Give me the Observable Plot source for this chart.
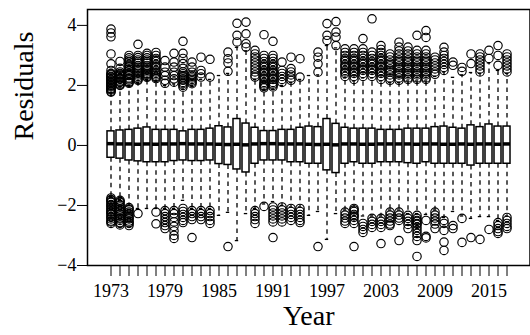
<!DOCTYPE html>
<html><head><meta charset="utf-8">
<script src="https://cdn.jsdelivr.net/npm/d3@7"></script>
<script src="https://cdn.jsdelivr.net/npm/@observablehq/plot@0.6"></script>
<style>body{margin:0;background:#fff} svg{display:block}</style>
</head><body><div id="chart"></div>
<script>
const years = [1973,1974,1975,1976,1977,1978,1979,1980,1981,1982,1983,1984,1985,1986,1987,1988,1989,1990,1991,1992,1993,1994,1995,1996,1997,1998,1999,2000,2001,2002,2003,2004,2005,2006,2007,2008,2009,2010,2011,2012,2013,2014,2015,2016,2017];
const q1 = [-0.41,-0.44,-0.50,-0.53,-0.56,-0.56,-0.56,-0.52,-0.50,-0.52,
            -0.52,-0.50,-0.62,-0.65,-0.80,-0.90,-0.61,-0.50,-0.50,-0.50,
            -0.56,-0.56,-0.61,-0.61,-0.83,-0.92,-0.61,-0.56,-0.61,-0.61,
            -0.56,-0.56,-0.56,-0.59,-0.61,-0.56,-0.61,-0.61,-0.61,-0.61,
            -0.67,-0.61,-0.61,-0.61,-0.61];
const median = [0.06,0.05,0.05,0.04,0.05,0.04,0.05,0.05,0.06,0.05,
                0.05,0.05,0.04,0.03,0.04,0.02,0.05,0.06,0.06,0.05,
                0.05,0.05,0.04,0.03,0.04,0.02,0.05,0.05,0.04,0.04,
                0.05,0.05,0.05,0.05,0.04,0.05,0.05,0.04,0.04,0.05,
                0.04,0.05,0.05,0.04,0.05];
const q3 = [0.47,0.50,0.52,0.56,0.60,0.52,0.52,0.52,0.47,0.52,
            0.52,0.56,0.64,0.60,0.88,0.73,0.59,0.48,0.48,0.52,
            0.52,0.59,0.63,0.61,0.88,0.72,0.59,0.56,0.56,0.56,
            0.52,0.52,0.52,0.56,0.56,0.56,0.61,0.63,0.59,0.56,
            0.67,0.61,0.70,0.63,0.63];
const whiskerLow = [-1.7,-1.8,-2.0,-2.1,-2.1,-2.1,-2.1,-2.1,-1.83,-2.1,
                    -2.1,-2.1,-2.33,-2.23,-3.17,-2.27,-2.1,-1.95,-1.87,-2.0,
                    -2.05,-2.05,-2.33,-2.2,-3.13,-2.27,-2.15,-2.05,-2.35,-2.35,
                    -2.35,-2.15,-2.15,-2.27,-2.27,-2.3,-2.15,-2.4,-2.2,-2.35,
                    -2.43,-2.37,-2.37,-2.5,-2.35];
const whiskerHigh = [1.75,1.95,2.0,2.1,2.2,2.15,2.0,2.05,1.88,2.0,
                     2.2,2.2,2.33,2.4,3.27,3.15,2.2,1.85,1.88,2.0,
                     2.1,2.2,2.33,2.35,3.33,3.25,2.25,2.15,2.25,2.25,
                     2.15,2.1,2.1,2.15,2.15,2.15,2.3,2.45,2.27,2.35,
                     2.43,2.4,2.75,2.5,2.4];
const outliersHigh = [
  [3.88,3.75,3.62,3.05,2.72,2.5,2.4,2.38,2.35,2.3,2.28,2.25,2.2,2.18,2.15,2.1,2.08,2.05,2.0,1.98,1.95,1.9,1.88,1.85,1.8,1.78],
  [2.8,2.57,2.45,2.4,2.38,2.35,2.32,2.26,2.23,2.2,2.15,2.12,2.1,2.05,2.02,2.0],
  [3.0,2.92,2.85,2.8,2.78,2.7,2.65,2.62,2.55,2.5,2.48,2.4,2.36,2.33,2.25,2.22,2.18,2.12,2.1,2.07],
  [3.37,3.0,2.93,2.85,2.8,2.75,2.65,2.6,2.55,2.5,2.45,2.4,2.35,2.3,2.25,2.2,2.17],
  [3.07,3.0,2.92,2.85,2.8,2.75,2.65,2.6,2.55,2.5,2.45,2.4,2.38,2.35,2.3,2.27],
  [3.1,3.0,2.9,2.85,2.8,2.7,2.65,2.6,2.5,2.45,2.4,2.35,2.3,2.27,2.23],
  [2.83,2.61,2.44,2.33,2.17,2.07],
  [3.07,2.78,2.61,2.44,2.33,2.22,2.11],
  [3.47,3.07,2.9,2.73,2.57,2.45,2.39,2.33,2.28,2.22,2.17,2.1,2.06,2.0,1.94],
  [2.78,2.61,2.44,2.35,2.3,2.25,2.2,2.15,2.1,2.06],
  [2.94,2.5,2.39,2.28],
  [2.87,2.28],
  [],
  [3.11,2.89,2.75,2.47],
  [4.07,3.67,3.45],
  [4.11,3.72,3.39,3.28],
  [3.17,3.05,2.95,2.85,2.75,2.65,2.55,2.45,2.35,2.28],
  [3.69,3.0,2.9,2.8,2.7,2.65,2.6,2.5,2.45,2.4,2.3,2.25,2.2,2.1,2.05,2.0,1.97,1.92],
  [3.47,3.0,2.9,2.8,2.7,2.65,2.6,2.5,2.45,2.4,2.3,2.25,2.2,2.1,2.05,2.0,1.95],
  [2.78,2.5,2.4,2.3,2.2,2.1],
  [2.94,2.56,2.45,2.35,2.25,2.17],
  [2.89,2.28],
  [],
  [3.11,2.94,2.72,2.44],
  [4.06,3.67,3.5],
  [4.13,3.78,3.61,3.33],
  [3.22,3.1,3.0,2.9,2.85,2.8,2.7,2.65,2.6,2.5,2.45,2.4,2.3],
  [3.22,3.1,3.0,2.9,2.85,2.8,2.7,2.65,2.6,2.5,2.45,2.4,2.3,2.2],
  [3.56,3.22,3.1,3.0,2.9,2.8,2.75,2.7,2.6,2.55,2.5,2.4,2.3],
  [4.22,3.11,3.0,2.9,2.8,2.75,2.7,2.6,2.55,2.5,2.4,2.3],
  [3.33,3.2,3.1,3.0,2.9,2.85,2.8,2.7,2.65,2.6,2.5,2.45,2.4,2.3,2.2],
  [3.05,2.95,2.85,2.75,2.7,2.65,2.55,2.5,2.45,2.35,2.25,2.17],
  [3.44,3.28,3.15,3.05,2.95,2.85,2.8,2.75,2.65,2.6,2.55,2.45,2.4,2.35,2.25,2.17],
  [3.28,3.15,3.05,2.95,2.85,2.8,2.75,2.65,2.6,2.55,2.45,2.4,2.35,2.25,2.2],
  [3.67,3.17,3.05,2.95,2.85,2.8,2.75,2.65,2.6,2.55,2.45,2.4,2.35,2.25,2.2],
  [3.83,3.6,3.17,3.05,2.95,2.85,2.8,2.75,2.65,2.6,2.55,2.45,2.4,2.35,2.25,2.2],
  [2.94,2.85,2.75,2.65,2.55,2.45,2.37],
  [3.27,3.11,3.0,2.9,2.8,2.7,2.6,2.5],
  [2.78,2.67],
  [2.6,2.47],
  [3.05,2.73],
  [3.05,2.95,2.85,2.75,2.65,2.55,2.45],
  [3.17,2.9],
  [3.33,3.0,2.67],
  [3.05,2.95,2.85,2.75,2.65,2.55,2.45]
];
const outliersLow = [
  [-1.75,-1.8,-1.82,-1.87,-1.9,-1.97,-2.0,-2.05,-2.1,-2.15,-2.2,-2.22,-2.27,-2.3,-2.37,-2.4,-2.45,-2.52,-2.55,-2.6],
  [-1.83,-1.87,-1.9,-1.97,-2.0,-2.05,-2.12,-2.17,-2.2,-2.27,-2.3,-2.35,-2.42,-2.45,-2.5,-2.57,-2.6,-2.65],
  [-2.07,-2.12,-2.15,-2.22,-2.27,-2.3,-2.37,-2.42,-2.45,-2.52,-2.57,-2.6,-2.67],
  [-2.27],
  [],
  [-2.22,-2.61],
  [-2.17,-2.27,-2.37,-2.47,-2.57,-2.67,-2.77],
  [-2.17,-2.27,-2.4,-2.55,-2.7,-2.85,-3.0,-3.1],
  [-2.1,-2.2,-2.3,-2.4,-2.5,-2.57],
  [-2.17,-2.27,-2.37,-2.47,-3.07],
  [-2.17,-2.27,-2.37,-2.47],
  [-2.17,-2.27,-2.37,-2.5,-2.6],
  [],
  [-3.37],
  [],
  [],
  [-2.17,-2.27,-2.37,-2.47,-2.6],
  [-2.03],
  [-2.05,-2.15,-2.25,-2.35,-2.45,-2.55,-3.07],
  [-2.05,-2.15,-2.25,-2.35,-2.45,-2.55],
  [-2.1,-2.2,-2.3,-2.4,-2.5],
  [-2.1,-2.2,-2.3,-2.4,-2.5,-2.57],
  [],
  [-3.37],
  [],
  [],
  [-2.22,-2.32,-2.42,-2.52,-2.6],
  [-2.1,-2.15,-2.2,-2.3,-2.35,-2.4,-2.5,-2.6,-3.37],
  [-2.6,-2.7,-2.8,-2.9],
  [-2.43,-2.53,-2.63,-2.73],
  [-2.43,-2.53,-2.63,-2.73,-3.27],
  [-2.22,-2.32,-2.42,-2.52,-2.62,-2.67],
  [-2.22,-2.32,-2.42,-2.5,-3.17],
  [-2.33,-2.43,-2.53,-2.63,-2.77],
  [-2.33,-2.43,-2.5,-2.53,-2.6,-2.63,-2.73,-2.83,-2.93,-3.03,-3.17,-3.7],
  [-2.5,-3.03,-3.08],
  [-2.22,-2.32,-2.42,-2.52,-2.62,-2.77],
  [-2.5,-2.6,-2.83,-3.22,-3.5],
  [-2.67,-2.77],
  [-2.43,-3.23],
  [-3.07],
  [-3.13],
  [-2.8],
  [-2.57,-2.67,-2.77,-2.87,-2.93],
  [-2.4,-2.5,-2.6,-2.7,-2.77]
];
const yTicks = [-4, -2, 0, 2, 4];
const xLabelYears = [1973, 1979, 1985, 1991, 1997, 2003, 2009, 2015];
const yLabel = "Residuals";
const xLabel = "Year";

const stats = years.map((year, i) => ({year, q1: q1[i], med: median[i], q3: q3[i], lo: whiskerLow[i], hi: whiskerHigh[i]}));
const outliers = years.flatMap((year, i) => [...outliersHigh[i], ...outliersLow[i]].map(v => ({year, v})));

const font = "'Liberation Serif', 'Times New Roman', serif";
const chart = Plot.plot({
  width: 530, height: 335,
  marginLeft: 87, marginRight: 0.5, marginTop: 9, marginBottom: 70,
  style: {fontFamily: font, background: "white", color: "black", overflow: "visible"},
  x: {type: "band", domain: years, paddingInner: 0.2, paddingOuter: 1.73},
  y: {domain: [-4, 4.53]},
  marks: [
    Plot.ruleX(stats, {x: "year", y1: "q3", y2: "hi", stroke: "black", strokeWidth: 1.3, strokeDasharray: "4.5,4"}),
    Plot.ruleX(stats, {x: "year", y1: "q1", y2: "lo", stroke: "black", strokeWidth: 1.3, strokeDasharray: "4.5,4"}),
    Plot.tickY(stats, {x: "year", y: "hi", inset: 1.8, stroke: "black", strokeWidth: 1.3}),
    Plot.tickY(stats, {x: "year", y: "lo", inset: 1.8, stroke: "black", strokeWidth: 1.3}),
    Plot.barY(stats, {x: "year", y1: "q1", y2: "q3", fill: "white", stroke: "black", strokeWidth: 1.5}),
    Plot.tickY(stats, {x: "year", y: "med", stroke: "black", strokeWidth: 3.5}),
    Plot.dot(outliers, {x: "year", y: "v", r: 4.2, stroke: "black", strokeWidth: 1.15, fill: "none"}),
    Plot.frame({stroke: "black", strokeWidth: 1.5}),
    Plot.axisY({ticks: yTicks, tickSize: 10, tickPadding: 1, fontSize: 18, label: null,
      tickFormat: d => d < 0 ? "\u2212" + Math.abs(d) : String(d)}),
    Plot.axisX({ticks: years, tickSize: 11, tickPadding: 8, fontSize: 18, label: null,
      tickFormat: d => xLabelYears.includes(d) ? String(d) : ""}),
    Plot.text([yLabel], {frameAnchor: "left", dx: -63, dy: 3, rotate: -90, fontSize: 28, fill: "black"}),
    Plot.text([xLabel], {frameAnchor: "bottom", dy: 59, fontSize: 28, fill: "black"})
  ]
});
document.getElementById("chart").append(chart);
</script>
</body></html>
